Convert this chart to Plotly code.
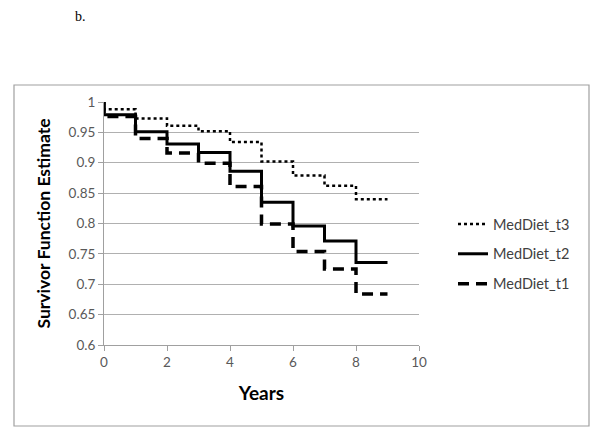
import plotly.graph_objects as go

years = [0, 0, 1, 2, 3, 4, 5, 6, 7, 8, 9]
medDiet_t3 = [1.0, 0.988, 0.973, 0.961, 0.952, 0.934, 0.902, 0.879, 0.862, 0.840, 0.840]
medDiet_t2 = [1.0, 0.979, 0.951, 0.931, 0.917, 0.886, 0.835, 0.796, 0.771, 0.736, 0.736]
medDiet_t1 = [1.0, 0.976, 0.940, 0.916, 0.899, 0.861, 0.799, 0.754, 0.725, 0.684, 0.684]

x_ticks = [0, 2, 4, 6, 8, 10]
y_ticks = [0.6, 0.65, 0.7, 0.75, 0.8, 0.85, 0.9, 0.95, 1]
y_tick_text = ["0.6", "0.65", "0.7", "0.75", "0.8", "0.85", "0.9", "0.95", "1"]

FONT = "Lato, 'Open Sans', sans-serif"

fig = go.Figure()
fig.add_trace(go.Scatter(x=years, y=medDiet_t3, mode="lines", line_shape="hv",
                         name="MedDiet_t3", legendgroup="a",
                         line=dict(color="black", width=2.5, dash="dot")))
fig.add_trace(go.Scatter(x=years, y=medDiet_t2, mode="lines", line_shape="hv",
                         name="MedDiet_t2", legendgroup="b",
                         line=dict(color="black", width=3, dash="solid")))
fig.add_trace(go.Scatter(x=years, y=medDiet_t1, mode="lines", line_shape="hv",
                         name="MedDiet_t1", legendgroup="c",
                         line=dict(color="black", width=3.5, dash="11px,7px")))

L, R, T, B = 104, 419, 102, 345
W, H = 600, 440

def px(p):
    return (p - L) / (R - L)

def py(p):
    return (B - p) / (B - T)

fig.update_layout(
    width=W, height=H,
    margin=dict(l=L, r=W - R, t=T, b=H - B),
    paper_bgcolor="white", plot_bgcolor="white",
    font=dict(family=FONT, color="#404040"),
    showlegend=True,
    legend=dict(x=px(453), y=py(208), xanchor="left", yanchor="top",
                font=dict(size=14.5, color="#404040", family=FONT),
                tracegroupgap=8, bgcolor="rgba(0,0,0,0)"),
    xaxis=dict(range=[0, 10], tickvals=x_ticks, ticks="outside", ticklen=5,
               tickcolor="#a0a0a0", showline=True, linecolor="#a0a0a0",
               showgrid=False, zeroline=False,
               tickfont=dict(size=13.5, color="#595959", family=FONT),
               title=dict(text="<b>Years</b>", font=dict(size=19, color="black", family=FONT),
                          standoff=17)),
    yaxis=dict(range=[0.6, 1], tickvals=y_ticks, ticktext=y_tick_text,
               ticks="outside", ticklen=5, tickcolor="#a0a0a0",
               showline=True, linecolor="#a0a0a0",
               showgrid=True, gridcolor="#b0b0b0", gridwidth=1, zeroline=False,
               tickfont=dict(size=13.5, color="#595959", family=FONT),
               title=dict(text="<b>Survivor Function Estimate</b>",
                          font=dict(size=17.5, color="black", family=FONT), standoff=13)),
)

fig.add_shape(type="rect", xref="paper", yref="paper",
              x0=px(14), x1=px(589), y0=py(426), y1=py(85),
              line=dict(color="#a0a0a0", width=1.2), fillcolor="rgba(0,0,0,0)", layer="below")

fig.add_annotation(text="b.", xref="paper", yref="paper", x=px(73), y=py(17),
                   xanchor="left", yanchor="middle", showarrow=False,
                   font=dict(family="'Liberation Serif', serif", size=14, color="black"))

fig.write_html("out.html", config={"displayModeBar": False},
               post_script="document.body.style.margin='0px';document.body.style.padding='0px';")
